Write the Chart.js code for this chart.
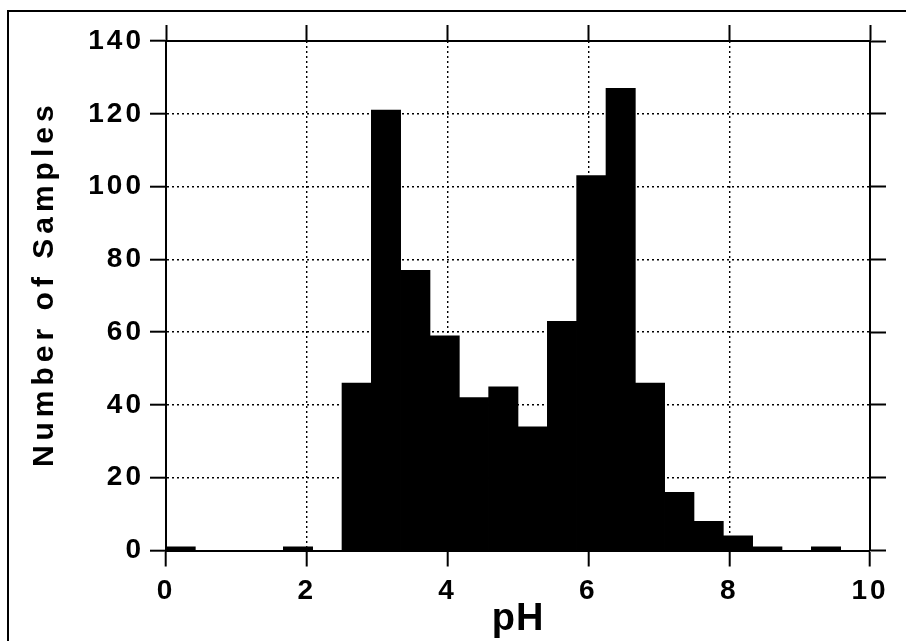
<!DOCTYPE html>
<html><head><meta charset="utf-8">
<script src="https://cdn.jsdelivr.net/npm/chart.js@4/dist/chart.umd.min.js"></script>
<style>html,body{margin:0;padding:0;background:#fff;}#wrap{width:906px;height:641px;}</style>
</head><body><div id="wrap"><canvas id="c" width="906" height="641"></canvas></div>
<script>
// pH bin centres (bins of width 10/24 from 0 to 10)
const phBinCenters = [0.2083, 0.6250, 1.0417, 1.4583, 1.8750, 2.2917, 2.7083, 3.1250, 3.5417, 3.9583, 4.3750, 4.7917,
                      5.2083, 5.6250, 6.0417, 6.4583, 6.8750, 7.2917, 7.7083, 8.1250, 8.5417, 8.9583, 9.3750, 9.7917];
const sampleCounts = [1, 0, 0, 0, 1, 0, 46, 121, 77, 59, 42, 45, 34, 63, 103, 127, 46, 16, 8, 4, 1, 0, 1, 0];
const xTickValues = [0, 2, 4, 6, 8, 10];
const yTickValues = [0, 20, 40, 60, 80, 100, 120, 140];
const xTitle = 'pH';
const yTitle = 'Number of Samples';

Chart.defaults.font.family = '"Liberation Sans", Arial, Helvetica, sans-serif';
Chart.defaults.color = '#000';

const tickFont = {size: 28, weight: 'bold', lineHeight: 1};

const framePlugin = {
  id: 'frame',
  beforeDraw(chart) { chart.ctx.letterSpacing = '3px'; },
  afterLayout(chart) {
    const s = chart.scales.y;
    if (!s._wrapped) {
      const orig = s.drawTitle.bind(s);
      s.drawTitle = function () {
        const c = this.ctx; c.save(); c.letterSpacing = '5px'; c.translate(0, -12); orig(); c.restore();
      };
      s._wrapped = true;
    }
    const t = chart.scales.x;
    if (!t._wrapped) {
      const origT = t.drawTitle.bind(t);
      t.drawTitle = function () {
        const c = this.ctx; c.save(); c.letterSpacing = '1px'; origT(); c.restore();
      };
      t._wrapped = true;
    }
  },
  afterDraw(chart) {
    const c = chart.ctx;
    c.save(); c.letterSpacing = '0px';
    c.strokeStyle = '#000'; c.lineWidth = 2;
    c.beginPath(); c.moveTo(906, 11); c.lineTo(8, 11); c.lineTo(8, 641); c.stroke();
    c.restore();
  }
};

const solidEdge = {display: true, color: '#000', width: 2, dash: [2, 3]};

new Chart(document.getElementById('c'), {
  type: 'bar',
  data: {
    datasets: [{
      data: phBinCenters.map((x, i) => ({x: x, y: sampleCounts[i]})),
      backgroundColor: '#000', borderWidth: 0, barPercentage: 1, categoryPercentage: 1,
      xAxisID: 'x', yAxisID: 'y'
    }]
  },
  options: {
    responsive: false, animation: false, devicePixelRatio: 1,
    layout: {padding: 0},
    plugins: {legend: {display: false}, tooltip: {enabled: false}},
    scales: {
      x: {
        type: 'linear', position: 'bottom', min: 0, max: 10, offset: false,
        afterBuildTicks(s) { s.ticks = xTickValues.map(v => ({value: v})); },
        ticks: {font: tickFont, padding: 11, maxRotation: 0, autoSkip: false},
        grid: {offset: false, color: '#000', lineWidth: 1.4, tickLength: 16, tickColor: '#000', tickWidth: 2},
        border: solidEdge,
        title: {display: true, text: xTitle, font: {size: 38, weight: 'bold', lineHeight: 1}, padding: {top: 0, bottom: 2}},
        afterFit(s) { s.height = 90.5; }
      },
      x2: {
        type: 'linear', position: 'top', min: 0, max: 10, offset: false,
        afterBuildTicks(s) { s.ticks = xTickValues.map(v => ({value: v})); },
        ticks: {display: false},
        grid: {offset: false, drawOnChartArea: false, tickLength: 16, tickColor: '#000', tickWidth: 2},
        border: {display: true, color: '#000', width: 2},
        afterFit(s) { s.height = 41; }
      },
      y: {
        type: 'linear', position: 'left', min: 0, max: 140,
        afterBuildTicks(s) { s.ticks = yTickValues.map(v => ({value: v})); },
        ticks: {font: tickFont, padding: 6},
        grid: {color: '#000', lineWidth: 1.4, tickLength: 16, tickColor: '#000', tickWidth: 2},
        border: solidEdge,
        title: {display: true, text: yTitle, font: {size: 30, weight: 'bold', lineHeight: 1}, padding: {top: 30, bottom: 0}},
        afterFit(s) { s.width = 166; }
      },
      y2: {
        type: 'linear', position: 'right', min: 0, max: 140,
        afterBuildTicks(s) { s.ticks = yTickValues.map(v => ({value: v})); },
        ticks: {display: false},
        grid: {drawOnChartArea: false, tickLength: 16, tickColor: '#000', tickWidth: 2},
        border: {display: true, color: '#000', width: 2},
        afterFit(s) { s.width = 36; }
      }
    }
  },
  plugins: [framePlugin]
});
</script>
</body></html>
